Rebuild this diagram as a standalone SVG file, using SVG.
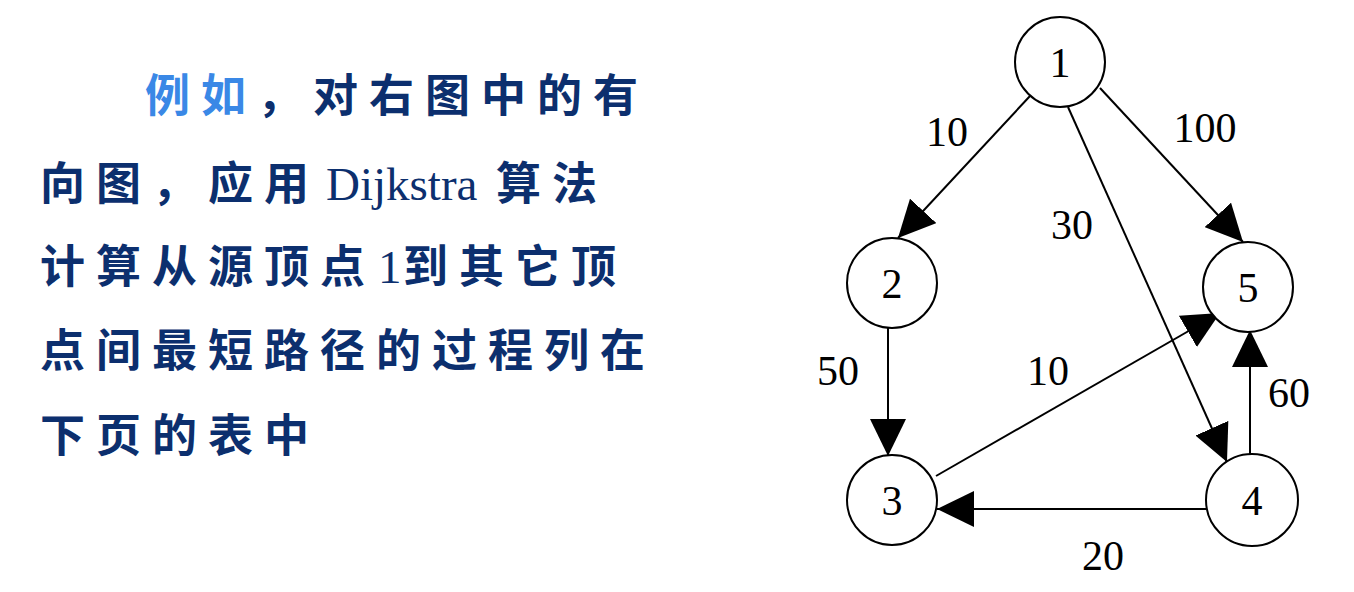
<svg xmlns="http://www.w3.org/2000/svg" width="1354" height="592" viewBox="0 0 1354 592">
<style>
.cn{font-family:"Noto Sans CJK SC","Noto Sans CJK TC",sans-serif;font-size:45px;font-weight:700;fill:#0c2f6e;letter-spacing:11px}
.hl{fill:#3a88e6}
.lat{font-family:"Liberation Serif",serif;font-weight:400;letter-spacing:0;font-size:47px;fill:#0c2f6e}
.node circle{fill:#fff;stroke:#000;stroke-width:2}
.node text,.lbl{font-family:"Liberation Serif",serif;font-size:42px;fill:#000;text-anchor:middle}
.edge{stroke:#000;stroke-width:2;fill:none;marker-end:url(#ah)}
</style>
<defs>
<marker id="ah" markerUnits="userSpaceOnUse" markerWidth="37" markerHeight="36" refX="37" refY="18" orient="auto">
<path d="M0,0 L37,18 L0,36 z" fill="#000"/>
</marker>
</defs>
<rect width="1354" height="592" fill="#fff"/>
<g id="paragraph">
<text class="cn" x="145" y="112"><tspan class="hl">例如</tspan>，对右图中的有</text>
<text class="cn" x="40" y="200">向图，应用</text>
<text class="lat" x="326" y="200">Dijkstra</text>
<text class="cn" x="496" y="200">算法</text>
<text class="cn" x="40" y="283">计算从源顶点</text>
<text class="lat" x="378" y="283">1</text>
<text class="cn" x="403" y="283">到其它顶</text>
<text class="cn" x="40" y="367">点间最短路径的过程列在</text>
<text class="cn" x="40" y="452">下页的表中</text>
</g>
<g id="connectors">
<line class="edge" x1="1030" y1="96" x2="898" y2="238"/>
<line class="edge" x1="1100" y1="88" x2="1243" y2="242"/>
<line class="edge" x1="1068" y1="107" x2="1227" y2="462"/>
<line class="edge" x1="888" y1="328" x2="888" y2="456"/>
<line class="edge" x1="936" y1="476" x2="1220" y2="313"/>
<line class="edge" x1="1250" y1="455" x2="1250" y2="330"/>
<line class="edge" x1="1206" y1="509" x2="937" y2="509"/>
<text class="lbl" x="947" y="146">10</text>
<text class="lbl" x="1205" y="142">100</text>
<text class="lbl" x="1072" y="239">30</text>
<text class="lbl" x="838" y="385">50</text>
<text class="lbl" x="1048" y="385">10</text>
<text class="lbl" x="1289" y="407">60</text>
<text class="lbl" x="1103" y="570">20</text>
</g>
<g id="n1" class="node"><circle cx="1060" cy="62" r="45"/><text x="1060" y="77">1</text></g>
<g id="n2" class="node"><circle cx="892" cy="283" r="45"/><text x="892" y="298">2</text></g>
<g id="n5" class="node"><circle cx="1248" cy="287" r="45"/><text x="1248" y="302">5</text></g>
<g id="n3" class="node"><circle cx="892" cy="500" r="45"/><text x="892" y="515">3</text></g>
<g id="n4" class="node"><circle cx="1252" cy="500" r="46"/><text x="1252" y="515">4</text></g>
</svg>
